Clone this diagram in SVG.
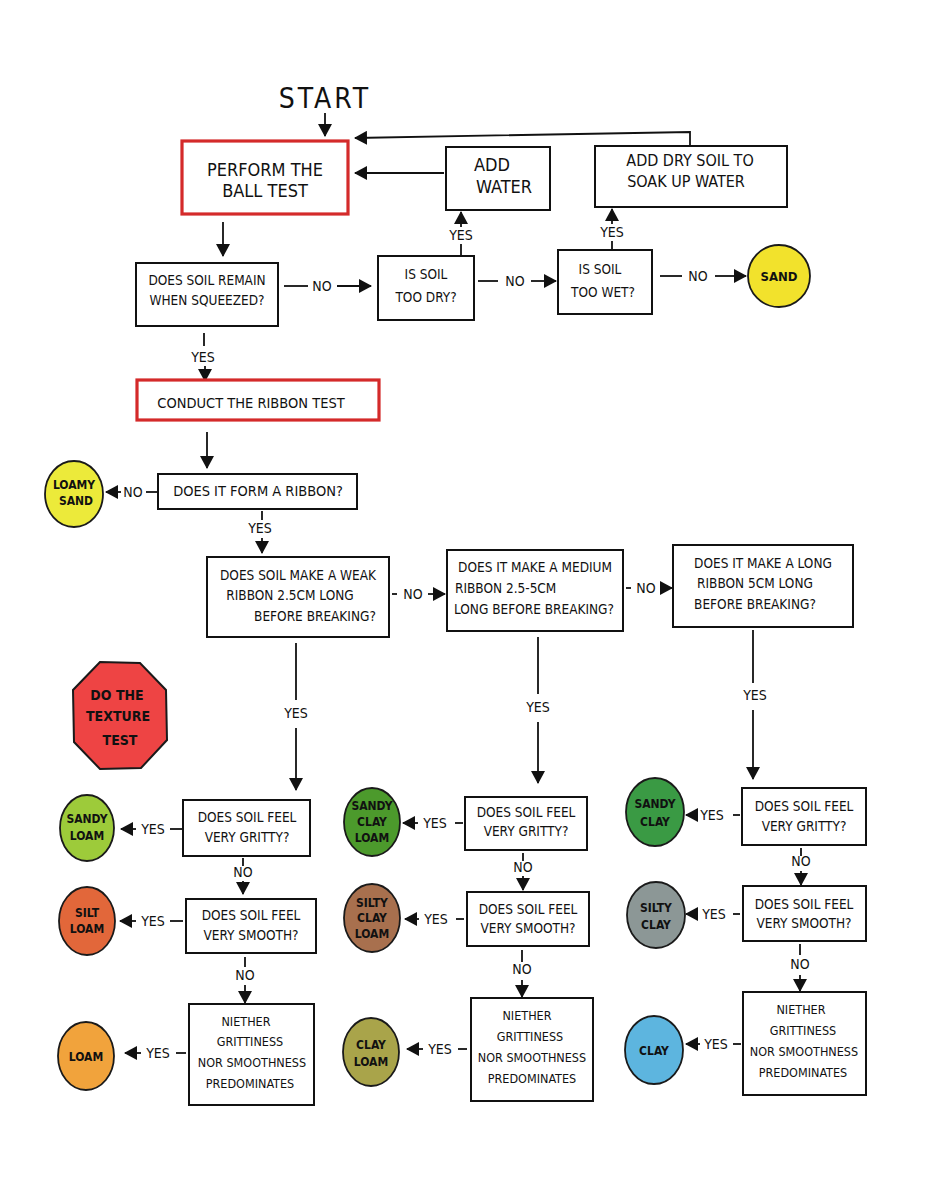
<svg xmlns="http://www.w3.org/2000/svg" width="927" height="1200" viewBox="0 0 927 1200">
<style>
text{font-family:"Liberation Sans Narrow","DejaVu Sans Condensed","Liberation Sans",sans-serif;fill:#111;text-anchor:middle}
.box{fill:#fff;stroke:#111;stroke-width:2}
.red{fill:#fff;stroke:#d42a2a;stroke-width:3.2}
.ln{stroke:#111;stroke-width:1.8;fill:none}
.arr{stroke:#111;stroke-width:1.8;fill:none;marker-end:url(#ah)}
.t{font-size:13.5px}
.ts{font-size:12.5px}
.tb{font-size:18px}
.lbl{font-size:14px}
.dot{stroke:#1a1a1a;stroke-width:1.8}
.ct{font-size:12px;font-weight:bold}
</style>
<defs>
<marker id="ah" markerUnits="userSpaceOnUse" markerWidth="14" markerHeight="14" refX="12" refY="7" orient="auto">
<path d="M0,0 L13,7 L0,14 z" fill="#111"/>
</marker>
</defs>
<rect width="927" height="1200" fill="#fff"/>

<g id="connectors">
<line class="arr" x1="325" y1="113" x2="325" y2="136"/>
<polyline class="arr" points="690,146 690,132 355,138"/>
<line class="arr" x1="444" y1="173" x2="355" y2="173"/>
<line class="arr" x1="223" y1="222" x2="223" y2="256"/>

<line class="ln" x1="284" y1="286" x2="308" y2="286"/><text class="lbl" x="322" y="291">NO</text><line class="arr" x1="337" y1="286" x2="371" y2="286"/>
<line class="ln" x1="461" y1="256" x2="461" y2="244"/><text class="lbl" x="461" y="240">YES</text><line class="arr" x1="461" y1="227" x2="461" y2="212"/>
<line class="ln" x1="478" y1="281" x2="498" y2="281"/><text class="lbl" x="515" y="286">NO</text><line class="arr" x1="531" y1="281" x2="556" y2="281"/>
<line class="ln" x1="612" y1="250" x2="612" y2="241"/><text class="lbl" x="612" y="237">YES</text><line class="arr" x1="612" y1="224" x2="612" y2="209"/>
<line class="ln" x1="660" y1="276" x2="682" y2="276"/><text class="lbl" x="698" y="281">NO</text><line class="arr" x1="715" y1="276" x2="746" y2="276"/>

<line class="ln" x1="204" y1="333" x2="204" y2="346"/><text class="lbl" x="203" y="362">YES</text><line class="arr" x1="205" y1="366" x2="205" y2="381"/>
<line class="arr" x1="207" y1="432" x2="207" y2="468"/>
<line class="ln" x1="158" y1="492" x2="146" y2="492"/><text class="lbl" x="133" y="497">NO</text><line class="arr" x1="121" y1="492" x2="106" y2="492"/>
<line class="ln" x1="262" y1="511" x2="262" y2="520"/><text class="lbl" x="260" y="533">YES</text><line class="arr" x1="262" y1="538" x2="262" y2="553"/>

<line class="ln" x1="392" y1="594" x2="397" y2="594"/><text class="lbl" x="413" y="599">NO</text><line class="arr" x1="428" y1="594" x2="445" y2="594"/>
<line class="ln" x1="626" y1="588" x2="631" y2="588"/><text class="lbl" x="646" y="593">NO</text><line class="arr" x1="660" y1="588" x2="672" y2="588"/>

<line class="ln" x1="296" y1="643" x2="296" y2="700"/><text class="lbl" x="296" y="718">YES</text><line class="arr" x1="296" y1="728" x2="296" y2="790"/>
<line class="ln" x1="538" y1="637" x2="538" y2="694"/><text class="lbl" x="538" y="712">YES</text><line class="arr" x1="538" y1="722" x2="538" y2="783"/>
<line class="ln" x1="753" y1="630" x2="753" y2="683"/><text class="lbl" x="755" y="700">YES</text><line class="arr" x1="753" y1="710" x2="753" y2="779"/>

<line class="ln" x1="183" y1="829" x2="170" y2="829"/><text class="lbl" x="153" y="834">YES</text><line class="arr" x1="136" y1="829" x2="121" y2="829"/>
<line class="ln" x1="463" y1="823" x2="455" y2="823"/><text class="lbl" x="435" y="828">YES</text><line class="arr" x1="418" y1="823" x2="403" y2="823"/>
<line class="ln" x1="740" y1="815" x2="733" y2="815"/><text class="lbl" x="712" y="820">YES</text><line class="arr" x1="695" y1="815" x2="686" y2="815"/>

<line class="ln" x1="243" y1="858" x2="243" y2="866"/><text class="lbl" x="243" y="877">NO</text><line class="arr" x1="243" y1="881" x2="243" y2="894"/>
<line class="ln" x1="523" y1="853" x2="523" y2="861"/><text class="lbl" x="523" y="872">NO</text><line class="arr" x1="523" y1="876" x2="523" y2="890"/>
<line class="ln" x1="801" y1="848" x2="801" y2="856"/><text class="lbl" x="801" y="866">NO</text><line class="arr" x1="801" y1="871" x2="801" y2="885"/>

<line class="ln" x1="183" y1="921" x2="170" y2="921"/><text class="lbl" x="153" y="926">YES</text><line class="arr" x1="136" y1="921" x2="120" y2="921"/>
<line class="ln" x1="464" y1="919" x2="456" y2="919"/><text class="lbl" x="436" y="924">YES</text><line class="arr" x1="419" y1="919" x2="405" y2="919"/>
<line class="ln" x1="740" y1="914" x2="733" y2="914"/><text class="lbl" x="714" y="919">YES</text><line class="arr" x1="697" y1="914" x2="686" y2="914"/>

<line class="ln" x1="245" y1="957" x2="245" y2="967"/><text class="lbl" x="245" y="980">NO</text><line class="arr" x1="245" y1="985" x2="245" y2="1003"/>
<line class="ln" x1="522" y1="950" x2="522" y2="962"/><text class="lbl" x="522" y="974">NO</text><line class="arr" x1="522" y1="980" x2="522" y2="997"/>
<line class="ln" x1="800" y1="944" x2="800" y2="955"/><text class="lbl" x="800" y="969">NO</text><line class="arr" x1="800" y1="975" x2="800" y2="991"/>

<line class="ln" x1="186" y1="1053" x2="176" y2="1053"/><text class="lbl" x="158" y="1058">YES</text><line class="arr" x1="141" y1="1053" x2="125" y2="1053"/>
<line class="ln" x1="467" y1="1049" x2="458" y2="1049"/><text class="lbl" x="440" y="1054">YES</text><line class="arr" x1="423" y1="1049" x2="407" y2="1049"/>
<line class="ln" x1="741" y1="1044" x2="733" y2="1044"/><text class="lbl" x="716" y="1049">YES</text><line class="arr" x1="700" y1="1044" x2="686" y2="1044"/>
</g>

<g id="start"><text x="325" y="108" style="font-size:28px;letter-spacing:3px">START</text></g>

<g id="ball-test"><rect class="red" x="182" y="141" width="166" height="73"/>
<text class="tb" x="265" y="176">PERFORM THE</text><text class="tb" x="265" y="197">BALL TEST</text></g>

<g id="add-water"><rect class="box" x="446" y="147" width="104" height="63"/>
<text class="tb" x="492" y="171">ADD</text><text class="tb" x="504" y="193">WATER</text></g>

<g id="add-dry-soil"><rect class="box" x="595" y="146" width="192" height="61"/>
<text x="690" y="166" style="font-size:16px">ADD DRY SOIL TO</text><text x="686" y="187" style="font-size:16px">SOAK UP WATER</text></g>

<g id="remain"><rect class="box" x="136" y="263" width="142" height="63"/>
<text class="t" x="207" y="285">DOES SOIL REMAIN</text><text class="t" x="207" y="305">WHEN SQUEEZED?</text></g>

<g id="too-dry"><rect class="box" x="378" y="256" width="96" height="64"/>
<text class="t" x="426" y="279">IS SOIL</text><text class="t" x="426" y="302">TOO DRY?</text></g>

<g id="too-wet"><rect class="box" x="558" y="250" width="94" height="64"/>
<text class="t" x="600" y="274">IS SOIL</text><text class="t" x="603" y="297">TOO WET?</text></g>

<g id="sand"><circle class="dot" cx="779" cy="276" r="31" fill="#f2e22c"/><text class="ct" x="779" y="281" style="font-size:13px">SAND</text></g>

<g id="ribbon-test"><rect class="red" x="137" y="380" width="242" height="40"/>
<text x="251" y="408" style="font-size:14.5px">CONDUCT THE RIBBON TEST</text></g>

<g id="form-ribbon"><rect class="box" x="158" y="474" width="199" height="35"/>
<text x="258" y="496" style="font-size:14.5px">DOES IT FORM A RIBBON?</text></g>

<g id="loamy-sand"><ellipse class="dot" cx="74" cy="494" rx="29" ry="33" fill="#ecea3a"/>
<text class="ct" x="74" y="489">LOAMY</text><text class="ct" x="76" y="505">SAND</text></g>

<g id="weak-ribbon"><rect class="box" x="207" y="557" width="182" height="80"/>
<text class="t" x="298" y="580">DOES SOIL MAKE A WEAK</text><text class="t" x="290" y="600">RIBBON 2.5CM LONG</text><text class="t" x="315" y="621">BEFORE BREAKING?</text></g>

<g id="medium-ribbon"><rect class="box" x="447" y="550" width="176" height="81"/>
<text class="t" x="535" y="572">DOES IT MAKE A MEDIUM</text><text class="t" x="455" y="593" style="text-anchor:start">RIBBON 2.5-5CM</text><text class="t" x="534" y="614">LONG BEFORE BREAKING?</text></g>

<g id="long-ribbon"><rect class="box" x="673" y="545" width="180" height="82"/>
<text class="t" x="763" y="568">DOES IT MAKE A LONG</text><text class="t" x="755" y="588">RIBBON 5CM LONG</text><text class="t" x="755" y="609">BEFORE BREAKING?</text></g>

<g id="texture-test"><polygon points="100,662 140,663 166,690 167,740 141,768 100,769 74,742 73,690" fill="#ee4444" stroke="#1a1a1a" stroke-width="2"/>
<text class="ct" x="117" y="700" style="font-size:14px">DO THE</text><text class="ct" x="118" y="721" style="font-size:14px">TEXTURE</text><text class="ct" x="120" y="745" style="font-size:14px">TEST</text></g>

<g id="gritty-a"><rect class="box" x="183" y="800" width="127" height="56"/>
<text class="t" x="247" y="822">DOES SOIL FEEL</text><text class="t" x="247" y="842">VERY GRITTY?</text></g>
<g id="sandy-loam"><ellipse class="dot" cx="87" cy="828" rx="27" ry="33" fill="#9dcb3a"/>
<text class="ct" x="87" y="823">SANDY</text><text class="ct" x="87" y="840">LOAM</text></g>

<g id="gritty-b"><rect class="box" x="465" y="797" width="122" height="53"/>
<text class="t" x="526" y="817">DOES SOIL FEEL</text><text class="t" x="526" y="836">VERY GRITTY?</text></g>
<g id="sandy-clay-loam"><ellipse class="dot" cx="372" cy="822" rx="28" ry="34" fill="#4c9a2c"/>
<text class="ct" x="372" y="810">SANDY</text><text class="ct" x="372" y="826">CLAY</text><text class="ct" x="372" y="842">LOAM</text></g>

<g id="gritty-c"><rect class="box" x="742" y="788" width="124" height="57"/>
<text class="t" x="804" y="811">DOES SOIL FEEL</text><text class="t" x="804" y="831">VERY GRITTY?</text></g>
<g id="sandy-clay"><ellipse class="dot" cx="655" cy="812" rx="29" ry="34" fill="#3a9a44"/>
<text class="ct" x="655" y="808">SANDY</text><text class="ct" x="655" y="826">CLAY</text></g>

<g id="smooth-a"><rect class="box" x="186" y="899" width="130" height="54"/>
<text class="t" x="251" y="920">DOES SOIL FEEL</text><text class="t" x="251" y="940">VERY SMOOTH?</text></g>
<g id="silt-loam"><ellipse class="dot" cx="87" cy="921" rx="28" ry="34" fill="#e2673a"/>
<text class="ct" x="87" y="917">SILT</text><text class="ct" x="87" y="933">LOAM</text></g>

<g id="smooth-b"><rect class="box" x="467" y="892" width="122" height="54"/>
<text class="t" x="528" y="914">DOES SOIL FEEL</text><text class="t" x="528" y="933">VERY SMOOTH?</text></g>
<g id="silty-clay-loam"><ellipse class="dot" cx="372" cy="918" rx="28" ry="34" fill="#a8704e"/>
<text class="ct" x="372" y="907">SILTY</text><text class="ct" x="372" y="922">CLAY</text><text class="ct" x="372" y="938">LOAM</text></g>

<g id="smooth-c"><rect class="box" x="743" y="886" width="123" height="55"/>
<text class="t" x="804" y="909">DOES SOIL FEEL</text><text class="t" x="804" y="928">VERY SMOOTH?</text></g>
<g id="silty-clay"><ellipse class="dot" cx="656" cy="915" rx="29" ry="33" fill="#8c9796"/>
<text class="ct" x="656" y="912">SILTY</text><text class="ct" x="656" y="929">CLAY</text></g>

<g id="neither-a"><rect class="box" x="189" y="1004" width="125" height="101"/>
<text class="ts" x="246" y="1026">NIETHER</text><text class="ts" x="250" y="1046">GRITTINESS</text><text class="ts" x="252" y="1067">NOR SMOOTHNESS</text><text class="ts" x="250" y="1088">PREDOMINATES</text></g>
<g id="loam"><ellipse class="dot" cx="86" cy="1056" rx="28" ry="34" fill="#f1a33c"/>
<text class="ct" x="86" y="1061">LOAM</text></g>

<g id="neither-b"><rect class="box" x="471" y="998" width="122" height="103"/>
<text class="ts" x="527" y="1020">NIETHER</text><text class="ts" x="530" y="1041">GRITTINESS</text><text class="ts" x="532" y="1062">NOR SMOOTHNESS</text><text class="ts" x="532" y="1083">PREDOMINATES</text></g>
<g id="clay-loam"><ellipse class="dot" cx="371" cy="1052" rx="28" ry="34" fill="#a9a44a"/>
<text class="ct" x="371" y="1049">CLAY</text><text class="ct" x="371" y="1066">LOAM</text></g>

<g id="neither-c"><rect class="box" x="743" y="992" width="123" height="103"/>
<text class="ts" x="801" y="1014">NIETHER</text><text class="ts" x="803" y="1035">GRITTINESS</text><text class="ts" x="804" y="1056">NOR SMOOTHNESS</text><text class="ts" x="803" y="1077">PREDOMINATES</text></g>
<g id="clay"><ellipse class="dot" cx="654" cy="1050" rx="29" ry="34" fill="#5db5df"/>
<text class="ct" x="654" y="1055">CLAY</text></g>
</svg>
